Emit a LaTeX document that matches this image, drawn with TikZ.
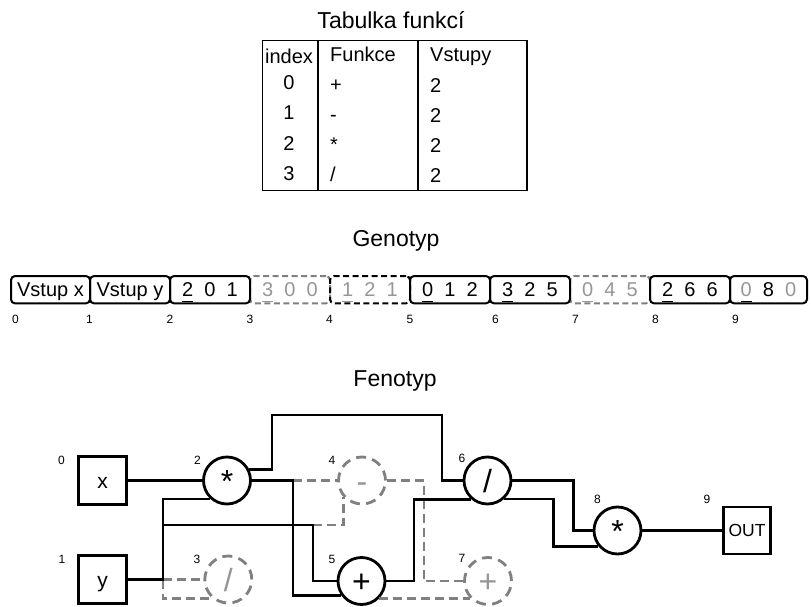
\documentclass[tikz,border=0pt]{standalone}
\usepackage{fontspec}
\setmainfont{Liberation Sans}
\definecolor{gline}{RGB}{128,128,128}
\definecolor{gtxt}{RGB}{150,150,150}
\newcommand\gul[1]{\setbox0=\hbox{#1}\rlap{\rule[-5.3pt]{\wd0}{1.5pt}}\box0}
\newcommand\gsp{\hspace{0.556em}}
\begin{document}
\begin{tikzpicture}[x=1pt,y=-1pt,
  title/.style={font=\fontsize{23}{27}\selectfont, anchor=base, inner sep=0pt},
  ttxt/.style={font=\fontsize{20}{24}\selectfont, anchor=base, inner sep=0pt},
  tcell/.style={ttxt, anchor=base west},
  gene/.style={draw, line width=2pt, rounded corners=4pt, minimum height=27.3pt,
    minimum width=80pt, inner sep=0pt, text height=14.4pt, text depth=0pt,
    font=\fontsize{20}{24}\selectfont},
  gghost/.style={gene, draw=gline, dash pattern=on 6pt off 3.5pt, text=gtxt},
  gdash/.style={gene, dash pattern=on 6pt off 3.5pt, text=gtxt},
  lab/.style={font=\fontsize{12}{14}\selectfont, inner sep=0pt},
  sq/.style={draw, line width=2.8pt, minimum size=48.5pt, inner sep=0pt,
    text height=15.6pt, text depth=0pt, font=\fontsize{21}{24}\selectfont},
  fn/.style={circle, draw, fill=white, line width=2.8pt, minimum size=47pt, inner sep=0pt,
    text height=23pt, text depth=0pt, font=\fontsize{32}{36}\selectfont},
  fghost/.style={fn, draw=gline, dash pattern=on 10pt off 6.4pt, text=gtxt, fill=none},
  wire/.style={line width=2.8pt},
  ghost/.style={line width=2.8pt, draw=gline, dash pattern=on 9pt off 5pt}
]
\useasboundingbox (0,0) rectangle (811,607);

% ---------- Tabulka funkci ----------
\node[title] (t1) at (391,28.3) {Tabulka funkcí};
\draw[line width=1.3pt] (262.7,40.7) rectangle (527,190.7);
\draw[line width=1.3pt] (418,40.7) -- (418,190.7);
\draw[line width=2.3pt] (318,40.7) -- (318,190.7);

\node[ttxt] (hi) at (289,64) {index};
\node[tcell] (hf) at (330,62) {Funkce};
\node[tcell] (hv) at (430,62) {Vstupy};
\node[ttxt] (i0) at (289,90) {0};
\node[ttxt] (i1) at (289,120) {1};
\node[ttxt] (i2) at (289,150) {2};
\node[ttxt] (i3) at (289,180) {3};
\node[tcell] (f0) at (330,92) {+};
\node[tcell] (f1) at (330,122) {-};
\node[tcell] (f2) at (330,152) {*};
\node[tcell] (f3) at (330,182) {/};
\node[tcell] (v0) at (430,93) {2};
\node[tcell] (v1) at (430,122.5) {2};
\node[tcell] (v2) at (430,153) {2};
\node[tcell] (v3) at (430,182.5) {2};

% ---------- Genotyp ----------
\node[title] (tg) at (396,246.7) {Genotyp};
\node[gghost] (g3) at (290,289.7) {\gul{3}\gsp 0\gsp 0};
\node[gghost] (g7) at (610,289.7) {\gul{0}\gsp 4\gsp 5};
\node[gdash] (g4) at (370,289.7) {\gul{1}\gsp 2\gsp 1};
\node[gene, minimum width=79pt] (g0) at (50.5,289.7) {Vstup x};
\node[gene] (g1) at (130,289.7) {Vstup y};
\node[gene] (g2) at (210,289.7) {\gul{2}\gsp 0\gsp 1};
\node[gene] (g5) at (450,289.7) {\gul{0}\gsp 1\gsp 2};
\node[gene] (g6) at (530,289.7) {\gul{3}\gsp 2\gsp 5};
\node[gene] (g8) at (690,289.7) {\gul{2}\gsp 6\gsp 6};
\node[gene, minimum width=77pt] (g9) at (768.5,289.7)
  {\gul{\textcolor{gtxt}{0}}\gsp 8\gsp \textcolor{gtxt}{0}};

\node[lab] (gl0) at (15.5,319) {0};
\node[lab] (gl1) at (89.5,319) {1};
\node[lab] (gl2) at (170,319) {2};
\node[lab] (gl3) at (250,319) {3};
\node[lab] (gl4) at (329.5,319) {4};
\node[lab] (gl5) at (410,319) {5};
\node[lab] (gl6) at (495.5,319) {6};
\node[lab] (gl7) at (575.5,319) {7};
\node[lab] (gl8) at (655.5,319) {8};
\node[lab] (gl9) at (735.5,319) {9};

% ---------- Fenotyp ----------
\node[title] (tf) at (395,386.7) {Fenotyp};

\node[sq] (bx) at (102.5,480.5) {x};
\node[sq] (by) at (102.5,579.5) {y};
\node[fghost] (n3) at (228.3,579.5) {/};
\node[fghost] (n4) at (362,480.5) {-};
\node[fghost] (n7) at (488,581) {+};
\node[fn] (n2) at (227,480.5) {*};
\node[fn] (n5) at (361.5,581) {+};
\node[fn] (n6) at (487.5,480.5) {/};
\node[fn] (n8) at (617.5,530.5) {*};
\node[sq, minimum size=47pt, text height=12.4pt, font=\fontsize{17.5}{20}\selectfont] (out) at (747,530.5) {OUT};

\node[lab] (l0) at (61.5,460) {0};
\node[lab] (l1) at (62,559) {1};
\node[lab] (l2) at (197.5,460.5) {2};
\node[lab] (l3) at (197,559) {3};
\node[lab] (l4) at (332,460.5) {4};
\node[lab] (l5) at (332,559) {5};
\node[lab] (l6) at (462,458) {6};
\node[lab] (l7) at (462,558.5) {7};
\node[lab] (l8) at (597.5,499.7) {8};
\node[lab] (l9) at (707,499.7) {9};

\coordinate (yj) at (163,579.5);
\coordinate (j1) at (163,525);
\coordinate (k1) at (313,525);
\coordinate (b2) at (293,480.5);
\coordinate (c1) at (272,415);
\coordinate (c2) at (442,415);

% ghost connectors
\draw[ghost] (yj) -- (n3.west);
\draw[ghost] (yj) |- (n3.229);
\draw[ghost] (b2) -- (n4.west);
\draw[ghost] (k1) -| (n4.221);
\draw[ghost] (n4.east) -- ++(37,0) |- (n7.west);
\draw[ghost] (n5.-45) -- (n7.225);

% active connectors
\draw[wire] (bx.east) -- (n2.west);
\draw[wire] (by.east) -- (yj) |- (n2.228);
\draw[wire] (j1) -- (k1) |- (n5.west);
\draw[wire] (n2.east) -- (b2) |- (n5.216);
\draw[wire] (n2.27) -| (c1) -- (c2) |- (n6.west);
\draw[wire] (n5.east) -- ++(27.5,0) |- (n6.229);
\draw[wire] (n6.east) -- ++(61,0) |- (n8.west);
\draw[wire] (n6.312) -- ++(49,0) |- (n8.219);
\draw[wire] (n8.east) -- (out.west);
\end{tikzpicture}
\end{document}
